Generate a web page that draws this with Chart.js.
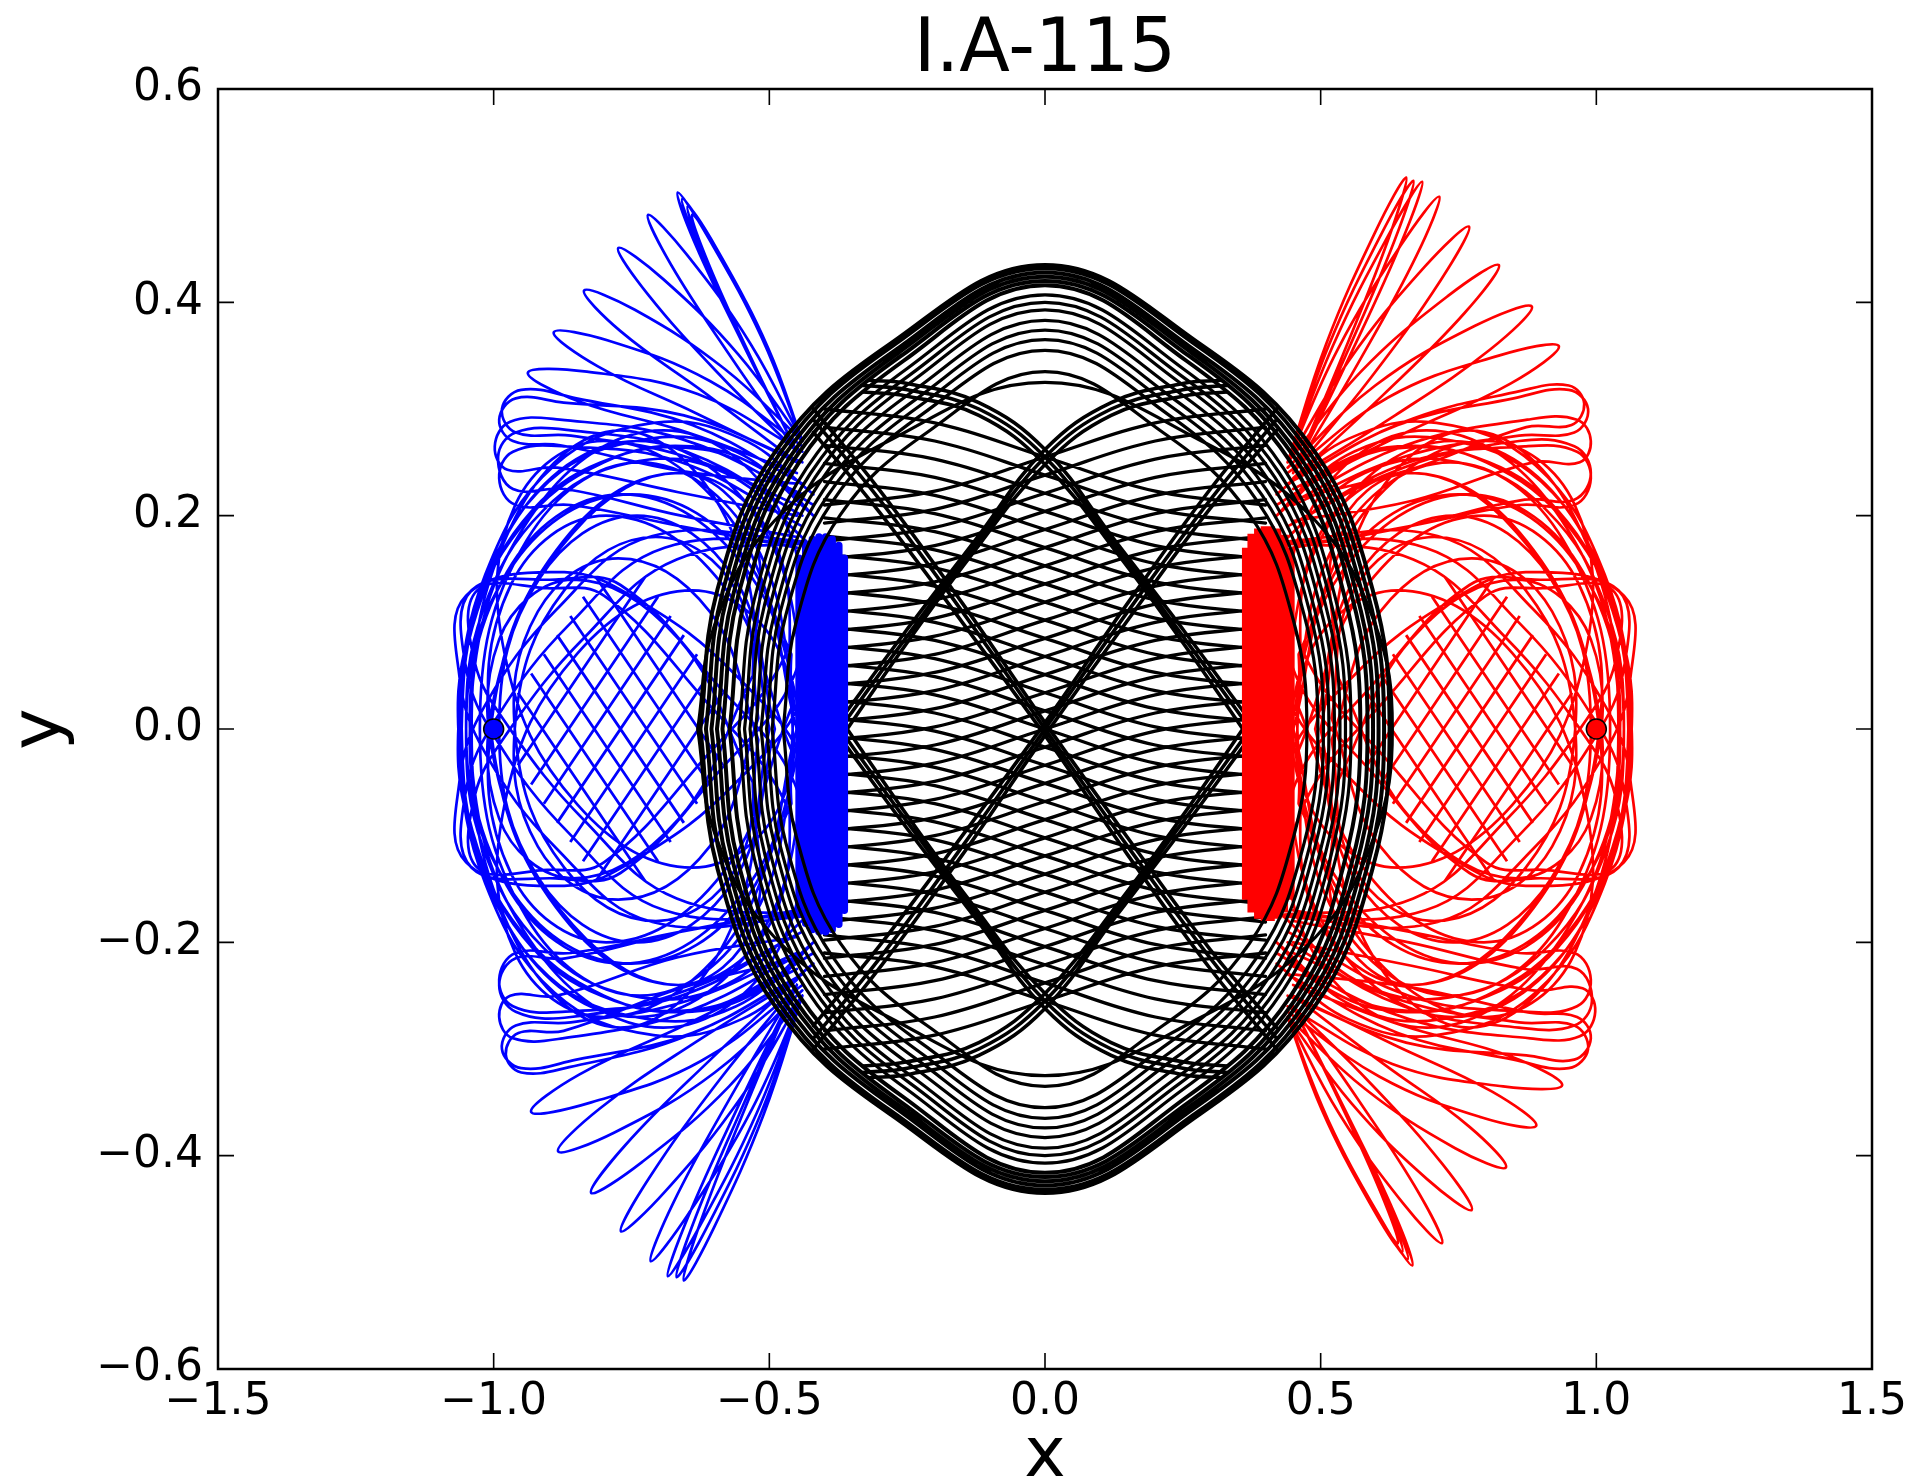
<!DOCTYPE html>
<html>
<head>
<meta charset="utf-8">
<title>I.A-115</title>
<script src="https://cdn.jsdelivr.net/npm/chart.js@4/dist/chart.umd.min.js"></script>
<style>
  html, body { margin: 0; padding: 0; background: #fff; }
  canvas { display: block; }
</style>
</head>
<body>
<canvas id="orbit" width="1914" height="1482"></canvas>
<script>
// ---- axes ----
const xTicks = [-1.5, -1.0, -0.5, 0, 0.5, 1.0, 1.5];
const xTickLabels = ['\u22121.5', '\u22121.0', '\u22120.5', '0.0', '0.5', '1.0', '1.5'];
const yTicks = [-0.6, -0.4, -0.2, 0, 0.2, 0.4, 0.6];
const yTickLabels = ['\u22120.6', '\u22120.4', '\u22120.2', '0.0', '0.2', '0.4', '0.6'];

// ---- starting positions of the two outer bodies ----
const startBlue = [-1, 0];
const startRed = [1, 0];

// ---- body 1 (blue): each curve is a flat list x0,y0,x1,y1,... ----
const bluePetalsUp = [
  [-0.44,0.27,-0.502,0.357,-0.586,0.441,-0.64,0.482,-0.61,0.436,-0.534,0.349,-0.45,0.26],
  [-0.44,0.27,-0.507,0.362,-0.594,0.449,-0.648,0.49,-0.618,0.443,-0.539,0.354,-0.45,0.26],
  [-0.44,0.27,-0.511,0.365,-0.602,0.455,-0.658,0.497,-0.626,0.449,-0.543,0.357,-0.45,0.26],
  [-0.44,0.27,-0.514,0.367,-0.609,0.459,-0.666,0.503,-0.633,0.453,-0.546,0.359,-0.45,0.26],
  [-0.44,0.27,-0.534,0.361,-0.65,0.445,-0.72,0.482,-0.678,0.435,-0.57,0.349,-0.45,0.26],
  [-0.44,0.27,-0.556,0.351,-0.693,0.422,-0.774,0.451,-0.721,0.408,-0.592,0.333,-0.45,0.26],
  [-0.44,0.27,-0.582,0.338,-0.744,0.393,-0.836,0.411,-0.77,0.373,-0.614,0.314,-0.45,0.25],
  [-0.44,0.265,-0.607,0.326,-0.791,0.364,-0.891,0.372,-0.811,0.34,-0.633,0.296,-0.45,0.25],
  [-0.44,0.26,-0.63,0.314,-0.831,0.335,-0.938,0.334,-0.845,0.307,-0.648,0.278,-0.45,0.24],
  [-0.44,0.25,-0.655,0.294,-0.873,0.306,-0.96,0.31,-0.99,0.29,-0.965,0.27,-0.879,0.266,-0.661,0.242,-0.45,0.23],
  [-0.44,0.23,-0.64,0.285,-0.85,0.31,-0.95,0.318,-0.985,0.3,-0.96,0.278,-0.86,0.275,-0.65,0.255,-0.45,0.21],
  [-0.44,0.22,-0.66,0.272,-0.88,0.29,-0.97,0.288,-0.998,0.265,-0.975,0.243,-0.885,0.245,-0.665,0.222,-0.45,0.2],
  [-0.44,0.2,-0.65,0.26,-0.86,0.28,-0.96,0.278,-0.992,0.255,-0.965,0.225,-0.87,0.225,-0.66,0.2,-0.45,0.18],
  [-0.44,0.19,-0.66,0.25,-0.87,0.265,-0.965,0.26,-0.99,0.235,-0.96,0.21,-0.86,0.21,-0.66,0.19,-0.45,0.17]
];
const bluePetalsDown = [
  [-0.44,-0.25,-0.51,-0.361,-0.6,-0.467,-0.655,-0.517,-0.624,-0.461,-0.542,-0.353,-0.45,-0.24],
  [-0.44,-0.25,-0.515,-0.36,-0.61,-0.464,-0.668,-0.514,-0.634,-0.458,-0.547,-0.352,-0.45,-0.24],
  [-0.44,-0.25,-0.522,-0.359,-0.623,-0.463,-0.684,-0.513,-0.647,-0.457,-0.554,-0.351,-0.45,-0.24],
  [-0.44,-0.25,-0.531,-0.356,-0.646,-0.454,-0.715,-0.499,-0.674,-0.444,-0.569,-0.344,-0.45,-0.24],
  [-0.44,-0.25,-0.552,-0.346,-0.688,-0.433,-0.769,-0.471,-0.718,-0.421,-0.592,-0.33,-0.45,-0.24],
  [-0.44,-0.25,-0.573,-0.335,-0.731,-0.406,-0.823,-0.435,-0.761,-0.39,-0.613,-0.313,-0.45,-0.235],
  [-0.44,-0.245,-0.599,-0.322,-0.78,-0.378,-0.883,-0.396,-0.808,-0.356,-0.635,-0.294,-0.45,-0.235],
  [-0.44,-0.24,-0.623,-0.311,-0.823,-0.35,-0.932,-0.359,-0.845,-0.324,-0.651,-0.277,-0.45,-0.225],
  [-0.44,-0.23,-0.647,-0.287,-0.863,-0.317,-0.95,-0.322,-0.978,-0.305,-0.955,-0.285,-0.873,-0.283,-0.661,-0.243,-0.45,-0.215],
  [-0.44,-0.23,-0.64,-0.285,-0.85,-0.31,-0.95,-0.318,-0.985,-0.3,-0.96,-0.278,-0.86,-0.275,-0.65,-0.255,-0.45,-0.21],
  [-0.44,-0.21,-0.654,-0.266,-0.875,-0.29,-0.965,-0.29,-0.99,-0.27,-0.97,-0.25,-0.885,-0.25,-0.666,-0.214,-0.45,-0.195],
  [-0.44,-0.19,-0.65,-0.245,-0.86,-0.27,-0.96,-0.265,-0.99,-0.24,-0.96,-0.215,-0.87,-0.215,-0.66,-0.19,-0.45,-0.17],
  [-0.44,-0.19,-0.66,-0.25,-0.87,-0.265,-0.965,-0.26,-0.99,-0.235,-0.96,-0.21,-0.86,-0.21,-0.66,-0.19,-0.45,-0.17]
];
// loops circling the open diamond around (-0.77, 0)
const blueRing = [
  [-0.52,0.01,-0.56,0.13,-0.706,0.18,-0.872,0.13,-0.96,0.01,-0.92,-0.11,-0.774,-0.16,-0.608,-0.11,-0.52,0.01],
  [-0.52,-0.01,-0.608,0.11,-0.774,0.16,-0.92,0.11,-0.96,-0.01,-0.872,-0.13,-0.706,-0.18,-0.56,-0.13,-0.52,-0.01],
  [-0.49,0,-0.563,0.141,-0.74,0.2,-0.917,0.141,-0.99,0,-0.917,-0.141,-0.74,-0.2,-0.563,-0.141,-0.49,0],
  [-0.46,0.02,-0.492,0.176,-0.664,0.24,-0.874,0.176,-1.0,0.02,-0.968,-0.136,-0.796,-0.2,-0.586,-0.136,-0.46,0.02],
  [-0.46,-0.02,-0.586,0.136,-0.796,0.2,-0.968,0.136,-1.0,-0.02,-0.874,-0.176,-0.664,-0.24,-0.492,-0.176,-0.46,-0.02],
  [-0.445,0,-0.53,0.177,-0.735,0.25,-0.94,0.177,-1.025,0,-0.94,-0.177,-0.735,-0.25,-0.53,-0.177,-0.445,0],
  [-0.42,0.03,-0.484,0.207,-0.692,0.28,-0.922,0.207,-1.04,0.03,-0.976,-0.147,-0.768,-0.22,-0.538,-0.147,-0.42,0.03],
  [-0.42,-0.03,-0.538,0.147,-0.768,0.22,-0.976,0.147,-1.04,-0.03,-0.922,-0.207,-0.692,-0.28,-0.484,-0.207,-0.42,-0.03],
  [-0.42,0,-0.514,0.191,-0.74,0.27,-0.966,0.191,-1.06,0,-0.966,-0.191,-0.74,-0.27,-0.514,-0.191,-0.42,0],
  [-0.53,0.05,-0.53,0.184,-0.665,0.24,-0.856,0.184,-0.99,0.05,-0.99,-0.084,-0.855,-0.14,-0.664,-0.084,-0.53,0.05],
  [-0.53,-0.05,-0.53,-0.184,-0.665,-0.24,-0.856,-0.184,-0.99,-0.05,-0.99,0.084,-0.855,0.14,-0.664,0.084,-0.53,-0.05],
  [-0.46,0.07,-0.592,0.211,-0.8,0.27,-0.96,0.211,-0.98,0.07,-0.848,-0.071,-0.64,-0.13,-0.48,-0.071,-0.46,0.07],
  [-0.46,-0.07,-0.592,-0.211,-0.8,-0.27,-0.96,-0.211,-0.98,-0.07,-0.848,0.071,-0.64,0.13,-0.48,0.071,-0.46,-0.07],
  [-0.45,0,-0.538,0.156,-0.75,0.22,-0.962,0.156,-1.05,0,-0.962,-0.156,-0.75,-0.22,-0.538,-0.156,-0.45,0],
  [-0.5,0,-0.579,0.198,-0.77,0.28,-0.961,0.198,-1.04,0,-0.961,-0.198,-0.77,-0.28,-0.579,-0.198,-0.5,0]
];
// slanted loops reaching from the turning band to the left rim
const blueSlants = [
  [-0.415,0.175,-0.668,0.159,-0.835,0.086,-0.973,-0.002,-1.035,-0.064,-1.03,-0.13,-0.903,-0.132,-0.8,-0.125,-0.615,-0.026,-0.478,0.062,-0.415,0.175],
  [-0.415,0.175,-0.69,0.17,-0.861,0.099,-0.995,0.01,-1.05,-0.057,-1.04,-0.13,-0.888,-0.14,-0.77,-0.135,-0.59,-0.039,-0.455,0.05,-0.415,0.175],
  [-0.415,0.175,-0.712,0.181,-0.886,0.112,-1.017,0.021,-1.062,-0.049,-1.05,-0.125,-0.872,-0.147,-0.738,-0.121,-0.564,-0.052,-0.433,0.039,-0.415,0.175],
  [-0.415,-0.175,-0.668,-0.159,-0.835,-0.086,-0.973,0.002,-1.035,0.064,-1.03,0.13,-0.903,0.132,-0.8,0.125,-0.615,0.026,-0.478,-0.062,-0.415,-0.175],
  [-0.415,-0.175,-0.69,-0.17,-0.861,-0.099,-0.995,-0.01,-1.05,0.057,-1.04,0.13,-0.888,0.14,-0.77,0.135,-0.59,0.039,-0.455,-0.05,-0.415,-0.175],
  [-0.415,-0.175,-0.712,-0.181,-0.886,-0.112,-1.017,-0.021,-1.062,0.049,-1.05,0.125,-0.872,0.147,-0.738,0.121,-0.564,0.052,-0.433,-0.039,-0.415,-0.175]
];
// straight crossings inside the diamond
const blueGrid = [
  [-0.814,-0.142,-0.584,0.034], [-0.838,-0.124,-0.608,0.052], [-0.861,-0.106,-0.631,0.07],
  [-0.885,-0.088,-0.655,0.088], [-0.909,-0.07,-0.679,0.106], [-0.932,-0.052,-0.702,0.124],
  [-0.956,-0.034,-0.726,0.142],
  [-0.814,0.142,-0.584,-0.034], [-0.838,0.124,-0.608,-0.052], [-0.861,0.106,-0.631,-0.07],
  [-0.885,0.088,-0.655,-0.088], [-0.909,0.07,-0.679,-0.106], [-0.932,0.052,-0.702,-0.124],
  [-0.956,0.034,-0.726,-0.142]
];
const blueArcs = [
  [-0.42,0.22,-0.55,0.272,-0.71,0.287,-0.89,0.247,-1.015,0.145,-1.062,0.02,-1.045,-0.09,-0.95,-0.19,-0.8,-0.25,-0.64,-0.265,-0.5,-0.24,-0.42,-0.2],
  [-0.42,0.2,-0.56,0.26,-0.72,0.272,-0.9,0.232,-1.02,0.13,-1.058,0,-1.03,-0.11,-0.93,-0.205,-0.78,-0.255,-0.62,-0.262,-0.5,-0.235,-0.42,-0.21],
  [-0.42,-0.22,-0.55,-0.272,-0.71,-0.287,-0.89,-0.247,-1.015,-0.145,-1.062,-0.02,-1.045,0.09,-0.95,0.19,-0.8,0.25,-0.64,0.265,-0.5,0.24,-0.42,0.2],
  [-0.42,-0.2,-0.56,-0.26,-0.72,-0.272,-0.9,-0.232,-1.02,-0.13,-1.058,0,-1.03,0.11,-0.93,0.205,-0.78,0.255,-0.62,0.262,-0.5,0.235,-0.42,0.21],
  [-0.42,0.17,-0.58,0.24,-0.75,0.25,-0.91,0.205,-1.02,0.11,-1.05,0,-1.02,-0.11,-0.91,-0.205,-0.75,-0.25,-0.58,-0.24,-0.42,-0.17]
];
const blueTurnBand = [
  [-0.446,0.16,-0.446,-0.17], [-0.434,0.172,-0.434,-0.182], [-0.422,0.178,-0.422,-0.188],
  [-0.41,0.18,-0.41,-0.19], [-0.398,0.18,-0.398,-0.19], [-0.386,0.178,-0.386,-0.188],
  [-0.374,0.172,-0.374,-0.183], [-0.364,0.16,-0.364,-0.17]
];

// ---- body 2 (red) ----
const redPetalsDown = [
  [0.44,-0.27,0.502,-0.357,0.586,-0.441,0.64,-0.482,0.61,-0.436,0.534,-0.349,0.45,-0.26],
  [0.44,-0.27,0.507,-0.362,0.594,-0.449,0.648,-0.49,0.618,-0.443,0.539,-0.354,0.45,-0.26],
  [0.44,-0.27,0.511,-0.365,0.602,-0.455,0.658,-0.497,0.626,-0.449,0.543,-0.357,0.45,-0.26],
  [0.44,-0.27,0.514,-0.367,0.609,-0.459,0.666,-0.503,0.633,-0.453,0.546,-0.359,0.45,-0.26],
  [0.44,-0.27,0.534,-0.361,0.65,-0.445,0.72,-0.482,0.678,-0.435,0.57,-0.349,0.45,-0.26],
  [0.44,-0.27,0.556,-0.351,0.693,-0.422,0.774,-0.451,0.721,-0.408,0.592,-0.333,0.45,-0.26],
  [0.44,-0.27,0.582,-0.338,0.744,-0.393,0.836,-0.411,0.77,-0.373,0.614,-0.314,0.45,-0.25],
  [0.44,-0.265,0.607,-0.326,0.791,-0.364,0.891,-0.372,0.811,-0.34,0.633,-0.296,0.45,-0.25],
  [0.44,-0.26,0.63,-0.314,0.831,-0.335,0.938,-0.334,0.845,-0.307,0.648,-0.278,0.45,-0.24],
  [0.44,-0.25,0.655,-0.294,0.873,-0.306,0.96,-0.31,0.99,-0.29,0.965,-0.27,0.879,-0.266,0.661,-0.242,0.45,-0.23],
  [0.44,-0.23,0.64,-0.285,0.85,-0.31,0.95,-0.318,0.985,-0.3,0.96,-0.278,0.86,-0.275,0.65,-0.255,0.45,-0.21],
  [0.44,-0.22,0.66,-0.272,0.88,-0.29,0.97,-0.288,0.998,-0.265,0.975,-0.243,0.885,-0.245,0.665,-0.222,0.45,-0.2],
  [0.44,-0.2,0.65,-0.26,0.86,-0.28,0.96,-0.278,0.992,-0.255,0.965,-0.225,0.87,-0.225,0.66,-0.2,0.45,-0.18],
  [0.44,-0.19,0.66,-0.25,0.87,-0.265,0.965,-0.26,0.99,-0.235,0.96,-0.21,0.86,-0.21,0.66,-0.19,0.45,-0.17]
];
const redPetalsUp = [
  [0.44,0.25,0.51,0.361,0.6,0.467,0.655,0.517,0.624,0.461,0.542,0.353,0.45,0.24],
  [0.44,0.25,0.515,0.36,0.61,0.464,0.668,0.514,0.634,0.458,0.547,0.352,0.45,0.24],
  [0.44,0.25,0.522,0.359,0.623,0.463,0.684,0.513,0.647,0.457,0.554,0.351,0.45,0.24],
  [0.44,0.25,0.531,0.356,0.646,0.454,0.715,0.499,0.674,0.444,0.569,0.344,0.45,0.24],
  [0.44,0.25,0.552,0.346,0.688,0.433,0.769,0.471,0.718,0.421,0.592,0.33,0.45,0.24],
  [0.44,0.25,0.573,0.335,0.731,0.406,0.823,0.435,0.761,0.39,0.613,0.313,0.45,0.235],
  [0.44,0.245,0.599,0.322,0.78,0.378,0.883,0.396,0.808,0.356,0.635,0.294,0.45,0.235],
  [0.44,0.24,0.623,0.311,0.823,0.35,0.932,0.359,0.845,0.324,0.651,0.277,0.45,0.225],
  [0.44,0.23,0.647,0.287,0.863,0.317,0.95,0.322,0.978,0.305,0.955,0.285,0.873,0.283,0.661,0.243,0.45,0.215],
  [0.44,0.23,0.64,0.285,0.85,0.31,0.95,0.318,0.985,0.3,0.96,0.278,0.86,0.275,0.65,0.255,0.45,0.21],
  [0.44,0.21,0.654,0.266,0.875,0.29,0.965,0.29,0.99,0.27,0.97,0.25,0.885,0.25,0.666,0.214,0.45,0.195],
  [0.44,0.19,0.65,0.245,0.86,0.27,0.96,0.265,0.99,0.24,0.96,0.215,0.87,0.215,0.66,0.19,0.45,0.17],
  [0.44,0.19,0.66,0.25,0.87,0.265,0.965,0.26,0.99,0.235,0.96,0.21,0.86,0.21,0.66,0.19,0.45,0.17]
];
const redRing = [
  [0.52,-0.01,0.56,-0.13,0.706,-0.18,0.872,-0.13,0.96,-0.01,0.92,0.11,0.774,0.16,0.608,0.11,0.52,-0.01],
  [0.52,0.01,0.608,-0.11,0.774,-0.16,0.92,-0.11,0.96,0.01,0.872,0.13,0.706,0.18,0.56,0.13,0.52,0.01],
  [0.49,0,0.563,-0.141,0.74,-0.2,0.917,-0.141,0.99,0,0.917,0.141,0.74,0.2,0.563,0.141,0.49,0],
  [0.46,-0.02,0.492,-0.176,0.664,-0.24,0.874,-0.176,1.0,-0.02,0.968,0.136,0.796,0.2,0.586,0.136,0.46,-0.02],
  [0.46,0.02,0.586,-0.136,0.796,-0.2,0.968,-0.136,1.0,0.02,0.874,0.176,0.664,0.24,0.492,0.176,0.46,0.02],
  [0.445,0,0.53,-0.177,0.735,-0.25,0.94,-0.177,1.025,0,0.94,0.177,0.735,0.25,0.53,0.177,0.445,0],
  [0.42,-0.03,0.484,-0.207,0.692,-0.28,0.922,-0.207,1.04,-0.03,0.976,0.147,0.768,0.22,0.538,0.147,0.42,-0.03],
  [0.42,0.03,0.538,-0.147,0.768,-0.22,0.976,-0.147,1.04,0.03,0.922,0.207,0.692,0.28,0.484,0.207,0.42,0.03],
  [0.42,0,0.514,-0.191,0.74,-0.27,0.966,-0.191,1.06,0,0.966,0.191,0.74,0.27,0.514,0.191,0.42,0],
  [0.53,-0.05,0.53,-0.184,0.665,-0.24,0.856,-0.184,0.99,-0.05,0.99,0.084,0.855,0.14,0.664,0.084,0.53,-0.05],
  [0.53,0.05,0.53,0.184,0.665,0.24,0.856,0.184,0.99,0.05,0.99,-0.084,0.855,-0.14,0.664,-0.084,0.53,0.05],
  [0.46,-0.07,0.592,-0.211,0.8,-0.27,0.96,-0.211,0.98,-0.07,0.848,0.071,0.64,0.13,0.48,0.071,0.46,-0.07],
  [0.46,0.07,0.592,0.211,0.8,0.27,0.96,0.211,0.98,0.07,0.848,-0.071,0.64,-0.13,0.48,-0.071,0.46,0.07],
  [0.45,0,0.538,-0.156,0.75,-0.22,0.962,-0.156,1.05,0,0.962,0.156,0.75,0.22,0.538,0.156,0.45,0],
  [0.5,0,0.579,-0.198,0.77,-0.28,0.961,-0.198,1.04,0,0.961,0.198,0.77,0.28,0.579,0.198,0.5,0]
];
const redSlants = [
  [0.415,-0.175,0.668,-0.159,0.835,-0.086,0.973,0.002,1.035,0.064,1.03,0.13,0.903,0.132,0.8,0.125,0.615,0.026,0.478,-0.062,0.415,-0.175],
  [0.415,-0.175,0.69,-0.17,0.861,-0.099,0.995,-0.01,1.05,0.057,1.04,0.13,0.888,0.14,0.77,0.135,0.59,0.039,0.455,-0.05,0.415,-0.175],
  [0.415,-0.175,0.712,-0.181,0.886,-0.112,1.017,-0.021,1.062,0.049,1.05,0.125,0.872,0.147,0.738,0.121,0.564,0.052,0.433,-0.039,0.415,-0.175],
  [0.415,0.175,0.668,0.159,0.835,0.086,0.973,-0.002,1.035,-0.064,1.03,-0.13,0.903,-0.132,0.8,-0.125,0.615,-0.026,0.478,0.062,0.415,0.175],
  [0.415,0.175,0.69,0.17,0.861,0.099,0.995,0.01,1.05,-0.057,1.04,-0.13,0.888,-0.14,0.77,-0.135,0.59,-0.039,0.455,0.05,0.415,0.175],
  [0.415,0.175,0.712,0.181,0.886,0.112,1.017,0.021,1.062,-0.049,1.05,-0.125,0.872,-0.147,0.738,-0.121,0.564,-0.052,0.433,0.039,0.415,0.175]
];
const redGrid = [
  [0.814,0.142,0.584,-0.034], [0.838,0.124,0.608,-0.052], [0.861,0.106,0.631,-0.07],
  [0.885,0.088,0.655,-0.088], [0.909,0.07,0.679,-0.106], [0.932,0.052,0.702,-0.124],
  [0.956,0.034,0.726,-0.142],
  [0.814,-0.142,0.584,0.034], [0.838,-0.124,0.608,0.052], [0.861,-0.106,0.631,0.07],
  [0.885,-0.088,0.655,0.088], [0.909,-0.07,0.679,0.106], [0.932,-0.052,0.702,0.124],
  [0.956,-0.034,0.726,0.142]
];
const redArcs = [
  [0.42,-0.22,0.55,-0.272,0.71,-0.287,0.89,-0.247,1.015,-0.145,1.062,-0.02,1.045,0.09,0.95,0.19,0.8,0.25,0.64,0.265,0.5,0.24,0.42,0.2],
  [0.42,-0.2,0.56,-0.26,0.72,-0.272,0.9,-0.232,1.02,-0.13,1.058,0,1.03,0.11,0.93,0.205,0.78,0.255,0.62,0.262,0.5,0.235,0.42,0.21],
  [0.42,0.22,0.55,0.272,0.71,0.287,0.89,0.247,1.015,0.145,1.062,0.02,1.045,-0.09,0.95,-0.19,0.8,-0.25,0.64,-0.265,0.5,-0.24,0.42,-0.2],
  [0.42,0.2,0.56,0.26,0.72,0.272,0.9,0.232,1.02,0.13,1.058,0,1.03,-0.11,0.93,-0.205,0.78,-0.255,0.62,-0.262,0.5,-0.235,0.42,-0.21],
  [0.42,-0.17,0.58,-0.24,0.75,-0.25,0.91,-0.205,1.02,-0.11,1.05,0,1.02,0.11,0.91,0.205,0.75,0.25,0.58,0.24,0.42,0.17]
];
const redTurnBand = [
  [0.446,-0.16,0.446,0.17], [0.434,-0.172,0.434,0.182], [0.422,-0.178,0.422,0.188],
  [0.41,-0.18,0.41,0.19], [0.398,-0.18,0.398,0.19], [0.386,-0.178,0.386,0.188],
  [0.374,-0.172,0.374,0.183], [0.364,-0.16,0.364,0.17]
];

// ---- body 3 (black) ----
const blackOuterRings = [
  [-0.625,0,-0.594,0.131,-0.488,0.261,-0.281,0.361,0,0.435,0.281,0.361,0.488,0.261,0.594,0.131,0.625,0,0.594,-0.131,0.488,-0.261,0.281,-0.361,0,-0.435,-0.281,-0.361,-0.488,-0.261,-0.594,-0.131,-0.625,0],
  [-0.615,0,-0.584,0.13,-0.48,0.259,-0.277,0.359,0,0.432,0.277,0.359,0.48,0.259,0.584,0.13,0.615,0,0.584,-0.13,0.48,-0.259,0.277,-0.359,0,-0.432,-0.277,-0.359,-0.48,-0.259,-0.584,-0.13,-0.615,0],
  [-0.605,0,-0.575,0.128,-0.472,0.257,-0.272,0.355,0,0.428,0.272,0.355,0.472,0.257,0.575,0.128,0.605,0,0.575,-0.128,0.472,-0.257,0.272,-0.355,0,-0.428,-0.272,-0.355,-0.472,-0.257,-0.575,-0.128,-0.605,0],
  [-0.595,0,-0.565,0.127,-0.464,0.254,-0.268,0.352,0,0.424,0.268,0.352,0.464,0.254,0.565,0.127,0.595,0,0.565,-0.127,0.464,-0.254,0.268,-0.352,0,-0.424,-0.268,-0.352,-0.464,-0.254,-0.565,-0.127,-0.595,0],
  [-0.585,0,-0.556,0.126,-0.456,0.252,-0.263,0.349,0,0.42,0.263,0.349,0.456,0.252,0.556,0.126,0.585,0,0.556,-0.126,0.456,-0.252,0.263,-0.349,0,-0.42,-0.263,-0.349,-0.456,-0.252,-0.556,-0.126,-0.585,0],
  [-0.572,0,-0.543,0.125,-0.446,0.25,-0.257,0.345,0,0.416,0.257,0.345,0.446,0.25,0.543,0.125,0.572,0,0.543,-0.125,0.446,-0.25,0.257,-0.345,0,-0.416,-0.257,-0.345,-0.446,-0.25,-0.543,-0.125,-0.572,0]
];
const blackInnerRings = [
  [-0.555,0,-0.527,0.122,-0.433,0.244,-0.25,0.338,0,0.407,0.25,0.338,0.433,0.244,0.527,0.122,0.555,0,0.527,-0.122,0.433,-0.244,0.25,-0.338,0,-0.407,-0.25,-0.338,-0.433,-0.244,-0.527,-0.122,-0.555,0],
  [-0.545,0,-0.518,0.12,-0.425,0.24,-0.245,0.332,0,0.4,0.245,0.332,0.425,0.24,0.518,0.12,0.545,0,0.518,-0.12,0.425,-0.24,0.245,-0.332,0,-0.4,-0.245,-0.332,-0.425,-0.24,-0.518,-0.12,-0.545,0],
  [-0.535,0,-0.508,0.118,-0.417,0.236,-0.241,0.326,0,0.393,0.241,0.326,0.417,0.236,0.508,0.118,0.535,0,0.508,-0.118,0.417,-0.236,0.241,-0.326,0,-0.393,-0.241,-0.326,-0.417,-0.236,-0.508,-0.118,-0.535,0],
  [-0.525,0,-0.499,0.115,-0.41,0.23,-0.236,0.318,0,0.383,0.236,0.318,0.41,0.23,0.499,0.115,0.525,0,0.499,-0.115,0.41,-0.23,0.236,-0.318,0,-0.383,-0.236,-0.318,-0.41,-0.23,-0.499,-0.115,-0.525,0],
  [-0.515,0,-0.489,0.112,-0.402,0.224,-0.232,0.31,0,0.374,0.232,0.31,0.402,0.224,0.489,0.112,0.515,0,0.489,-0.112,0.402,-0.224,0.232,-0.31,0,-0.374,-0.232,-0.31,-0.402,-0.224,-0.489,-0.112,-0.515,0],
  [-0.505,0,-0.48,0.11,-0.394,0.219,-0.227,0.303,0,0.365,0.227,0.303,0.394,0.219,0.48,0.11,0.505,0,0.48,-0.11,0.394,-0.219,0.227,-0.303,0,-0.365,-0.227,-0.303,-0.394,-0.219,-0.48,-0.11,-0.505,0],
  [-0.495,0,-0.47,0.107,-0.386,0.213,-0.223,0.295,0,0.355,0.223,0.295,0.386,0.213,0.47,0.107,0.495,0,0.47,-0.107,0.386,-0.213,0.223,-0.295,0,-0.355,-0.223,-0.295,-0.386,-0.213,-0.47,-0.107,-0.495,0],
  [-0.475,0,-0.451,0.101,-0.371,0.201,-0.214,0.278,0,0.335,0.214,0.278,0.371,0.201,0.451,0.101,0.475,0,0.451,-0.101,0.371,-0.201,0.214,-0.278,0,-0.335,-0.214,-0.278,-0.371,-0.201,-0.451,-0.101,-0.475,0],
  [-0.63,0,-0.599,0.098,-0.491,0.195,-0.284,0.27,0,0.325,0.284,0.27,0.491,0.195,0.599,0.098,0.63,0,0.599,-0.098,0.491,-0.195,0.284,-0.27,0,-0.325,-0.284,-0.27,-0.491,-0.195,-0.599,-0.098,-0.63,0]
];
const blackCaustics = [
  [-0.42,0.29,-0.3,0.215,-0.15,0.11,0,0,0.15,-0.11,0.3,-0.215,0.42,-0.29],
  [-0.42,0.278,-0.3,0.203,-0.15,0.1,0,-0.006,0.15,-0.118,0.3,-0.225,0.42,-0.3],
  [-0.42,0.3,-0.3,0.224,-0.15,0.118,0,0.006,0.15,-0.102,0.3,-0.207,0.42,-0.28],
  [-0.42,-0.29,-0.3,-0.215,-0.15,-0.11,0,0,0.15,0.11,0.3,0.215,0.42,0.29],
  [-0.42,-0.278,-0.3,-0.203,-0.15,-0.1,0,0.006,0.15,0.118,0.3,0.225,0.42,0.3],
  [-0.42,-0.3,-0.3,-0.224,-0.15,-0.118,0,-0.006,0.15,0.102,0.3,0.207,0.42,0.28],
  [-0.4,-0.02,-0.26,0.08,-0.13,0.17,0,0.255,0.12,0.3,0.25,0.318,0.33,0.322],
  [-0.39,-0.005,-0.255,0.09,-0.125,0.178,0,0.262,0.12,0.306,0.25,0.324,0.32,0.327],
  [-0.405,-0.035,-0.265,0.07,-0.135,0.162,0,0.248,0.12,0.294,0.25,0.312,0.33,0.316],
  [0.4,-0.02,0.26,0.08,0.13,0.17,0,0.255,-0.12,0.3,-0.25,0.318,-0.33,0.322],
  [0.39,-0.005,0.255,0.09,0.125,0.178,0,0.262,-0.12,0.306,-0.25,0.324,-0.32,0.327],
  [0.405,-0.035,0.265,0.07,0.135,0.162,0,0.248,-0.12,0.294,-0.25,0.312,-0.33,0.316],
  [-0.4,0.02,-0.26,-0.08,-0.13,-0.17,0,-0.255,0.12,-0.3,0.25,-0.318,0.33,-0.322],
  [-0.39,0.005,-0.255,-0.09,-0.125,-0.178,0,-0.262,0.12,-0.306,0.25,-0.324,0.32,-0.327],
  [-0.405,0.035,-0.265,-0.07,-0.135,-0.162,0,-0.248,0.12,-0.294,0.25,-0.312,0.33,-0.316],
  [0.4,0.02,0.26,-0.08,0.13,-0.17,0,-0.255,-0.12,-0.3,-0.25,-0.318,-0.33,-0.322],
  [0.39,0.005,0.255,-0.09,0.125,-0.178,0,-0.262,-0.12,-0.306,-0.25,-0.324,-0.32,-0.327],
  [0.405,0.035,0.265,-0.07,0.135,-0.162,0,-0.248,-0.12,-0.294,-0.25,-0.312,-0.33,-0.316]
];
// horizontal swings across the middle, falling left to right
const blackSwingsDown = [
  [-0.4,-0.21,-0.2,-0.223,0,-0.255,0.2,-0.287,0.4,-0.3],
  [-0.4,-0.193,-0.2,-0.206,0,-0.238,0.2,-0.27,0.4,-0.283],
  [-0.4,-0.176,-0.2,-0.189,0,-0.221,0.2,-0.253,0.4,-0.266],
  [-0.4,-0.159,-0.2,-0.172,0,-0.204,0.2,-0.236,0.4,-0.249],
  [-0.4,-0.142,-0.2,-0.155,0,-0.187,0.2,-0.219,0.4,-0.232],
  [-0.4,-0.125,-0.2,-0.138,0,-0.17,0.2,-0.202,0.4,-0.215],
  [-0.4,-0.108,-0.2,-0.121,0,-0.153,0.2,-0.185,0.4,-0.198],
  [-0.4,-0.091,-0.2,-0.104,0,-0.136,0.2,-0.168,0.4,-0.181],
  [-0.4,-0.074,-0.2,-0.087,0,-0.119,0.2,-0.151,0.4,-0.164],
  [-0.4,-0.057,-0.2,-0.07,0,-0.102,0.2,-0.134,0.4,-0.147],
  [-0.4,-0.04,-0.2,-0.053,0,-0.085,0.2,-0.117,0.4,-0.13],
  [-0.4,-0.023,-0.2,-0.036,0,-0.068,0.2,-0.1,0.4,-0.113],
  [-0.4,-0.006,-0.2,-0.019,0,-0.051,0.2,-0.083,0.4,-0.096],
  [-0.4,0.011,-0.2,-0.002,0,-0.034,0.2,-0.066,0.4,-0.079],
  [-0.4,0.028,-0.2,0.015,0,-0.017,0.2,-0.049,0.4,-0.062],
  [-0.4,0.045,-0.2,0.032,0,0,0.2,-0.032,0.4,-0.045],
  [-0.4,0.062,-0.2,0.049,0,0.017,0.2,-0.015,0.4,-0.028],
  [-0.4,0.079,-0.2,0.066,0,0.034,0.2,0.002,0.4,-0.011],
  [-0.4,0.096,-0.2,0.083,0,0.051,0.2,0.019,0.4,0.006],
  [-0.4,0.113,-0.2,0.1,0,0.068,0.2,0.036,0.4,0.023],
  [-0.4,0.13,-0.2,0.117,0,0.085,0.2,0.053,0.4,0.04],
  [-0.4,0.147,-0.2,0.134,0,0.102,0.2,0.07,0.4,0.057],
  [-0.4,0.164,-0.2,0.151,0,0.119,0.2,0.087,0.4,0.074],
  [-0.4,0.181,-0.2,0.168,0,0.136,0.2,0.104,0.4,0.091],
  [-0.4,0.198,-0.2,0.185,0,0.153,0.2,0.121,0.4,0.108],
  [-0.4,0.215,-0.2,0.202,0,0.17,0.2,0.138,0.4,0.125],
  [-0.4,0.232,-0.2,0.219,0,0.187,0.2,0.155,0.4,0.142],
  [-0.4,0.249,-0.2,0.236,0,0.204,0.2,0.172,0.4,0.159],
  [-0.4,0.266,-0.2,0.253,0,0.221,0.2,0.189,0.4,0.176],
  [-0.4,0.283,-0.2,0.27,0,0.238,0.2,0.206,0.4,0.193],
  [-0.4,0.3,-0.2,0.287,0,0.255,0.2,0.223,0.4,0.21]
];
// and the swings rising left to right
const blackSwingsUp = [
  [0.4,-0.21,0.2,-0.223,0,-0.255,-0.2,-0.287,-0.4,-0.3],
  [0.4,-0.193,0.2,-0.206,0,-0.238,-0.2,-0.27,-0.4,-0.283],
  [0.4,-0.176,0.2,-0.189,0,-0.221,-0.2,-0.253,-0.4,-0.266],
  [0.4,-0.159,0.2,-0.172,0,-0.204,-0.2,-0.236,-0.4,-0.249],
  [0.4,-0.142,0.2,-0.155,0,-0.187,-0.2,-0.219,-0.4,-0.232],
  [0.4,-0.125,0.2,-0.138,0,-0.17,-0.2,-0.202,-0.4,-0.215],
  [0.4,-0.108,0.2,-0.121,0,-0.153,-0.2,-0.185,-0.4,-0.198],
  [0.4,-0.091,0.2,-0.104,0,-0.136,-0.2,-0.168,-0.4,-0.181],
  [0.4,-0.074,0.2,-0.087,0,-0.119,-0.2,-0.151,-0.4,-0.164],
  [0.4,-0.057,0.2,-0.07,0,-0.102,-0.2,-0.134,-0.4,-0.147],
  [0.4,-0.04,0.2,-0.053,0,-0.085,-0.2,-0.117,-0.4,-0.13],
  [0.4,-0.023,0.2,-0.036,0,-0.068,-0.2,-0.1,-0.4,-0.113],
  [0.4,-0.006,0.2,-0.019,0,-0.051,-0.2,-0.083,-0.4,-0.096],
  [0.4,0.011,0.2,-0.002,0,-0.034,-0.2,-0.066,-0.4,-0.079],
  [0.4,0.028,0.2,0.015,0,-0.017,-0.2,-0.049,-0.4,-0.062],
  [0.4,0.045,0.2,0.032,0,0,-0.2,-0.032,-0.4,-0.045],
  [0.4,0.062,0.2,0.049,0,0.017,-0.2,-0.015,-0.4,-0.028],
  [0.4,0.079,0.2,0.066,0,0.034,-0.2,0.002,-0.4,-0.011],
  [0.4,0.096,0.2,0.083,0,0.051,-0.2,0.019,-0.4,0.006],
  [0.4,0.113,0.2,0.1,0,0.068,-0.2,0.036,-0.4,0.023],
  [0.4,0.13,0.2,0.117,0,0.085,-0.2,0.053,-0.4,0.04],
  [0.4,0.147,0.2,0.134,0,0.102,-0.2,0.07,-0.4,0.057],
  [0.4,0.164,0.2,0.151,0,0.119,-0.2,0.087,-0.4,0.074],
  [0.4,0.181,0.2,0.168,0,0.136,-0.2,0.104,-0.4,0.091],
  [0.4,0.198,0.2,0.185,0,0.153,-0.2,0.121,-0.4,0.108],
  [0.4,0.215,0.2,0.202,0,0.17,-0.2,0.138,-0.4,0.125],
  [0.4,0.232,0.2,0.219,0,0.187,-0.2,0.155,-0.4,0.142],
  [0.4,0.249,0.2,0.236,0,0.204,-0.2,0.172,-0.4,0.159],
  [0.4,0.266,0.2,0.253,0,0.221,-0.2,0.189,-0.4,0.176],
  [0.4,0.283,0.2,0.27,0,0.238,-0.2,0.206,-0.4,0.193],
  [0.4,0.3,0.2,0.287,0,0.255,-0.2,0.223,-0.4,0.21]
];

// ---- helpers ----
// join separate curves into one dataset, broken by gaps
function trace(...groups) {
  const out = [];
  groups.forEach(group => group.forEach(curve => {
    if (out.length) out.push({x: null, y: null});
    for (let k = 0; k < curve.length; k += 2) out.push({x: curve[k], y: curve[k + 1]});
  }));
  return out;
}
function path(data, color, width, order, tension) {
  return {
    data, order, showLine: true, spanGaps: false,
    borderColor: color, borderWidth: width,
    tension: tension === undefined ? 0.4 : tension,
    borderJoinStyle: 'round', borderCapStyle: tension === 0 ? 'butt' : 'round',
    pointRadius: 0, pointHoverRadius: 0, fill: false
  };
}

const FONT = 'DejaVu Sans';
const TICK_LEN = 16;

// inward tick marks on all four sides plus the frame
const frame = {
  id: 'frame',
  afterDatasetsDraw(chart) {
    const {ctx, chartArea: {left, right, top, bottom}, scales: {x, y}} = chart;
    ctx.save();
    ctx.strokeStyle = '#000';
    ctx.lineWidth = 1.6;
    ctx.beginPath();
    x.ticks.forEach(t => {
      const p = x.getPixelForValue(t.value);
      ctx.moveTo(p, bottom); ctx.lineTo(p, bottom - TICK_LEN);
      ctx.moveTo(p, top); ctx.lineTo(p, top + TICK_LEN);
    });
    y.ticks.forEach(t => {
      const p = y.getPixelForValue(t.value);
      ctx.moveTo(left, p); ctx.lineTo(left + TICK_LEN, p);
      ctx.moveTo(right, p); ctx.lineTo(right - TICK_LEN, p);
    });
    ctx.stroke();
    ctx.lineWidth = 2.5;
    ctx.strokeRect(left, top, right - left, bottom - top);
    ctx.restore();
  }
};

new Chart(document.getElementById('orbit'), {
  type: 'scatter',
  data: {
    datasets: [
      {data: [{x: startBlue[0], y: startBlue[1]}], order: 0, pointRadius: 10, pointBackgroundColor: '#0000ff',
       pointBorderColor: '#000', pointBorderWidth: 1.5, showLine: false},
      {data: [{x: startRed[0], y: startRed[1]}], order: 0, pointRadius: 10, pointBackgroundColor: '#ff0000',
       pointBorderColor: '#000', pointBorderWidth: 1.5, showLine: false},
      path(trace(blackOuterRings), '#000000', 4, 1),
      path(trace(blackInnerRings), '#000000', 3.2, 2),
      path(trace(blueTurnBand), '#0000ff', 7.5, 3, 0),
      path(trace(redTurnBand), '#ff0000', 7.5, 3, 0),
      path(trace(blackCaustics), '#000000', 3.6, 4),
      path(trace(blueGrid), '#0000ff', 2.8, 5, 0),
      path(trace(redGrid), '#ff0000', 2.8, 5, 0),
      path(trace(bluePetalsUp, bluePetalsDown, blueRing, blueSlants, blueArcs), '#0000ff', 2.7, 5),
      path(trace(redPetalsDown, redPetalsUp, redRing, redSlants, redArcs), '#ff0000', 2.7, 5),
      path(trace(blackSwingsDown, blackSwingsUp), '#000000', 3.3, 6)
    ]
  },
  options: {
    responsive: false,
    animation: false,
    devicePixelRatio: 1,
    events: [],
    layout: {padding: {left: 0, right: 42, top: 0, bottom: 0}},
    plugins: {
      legend: {display: false},
      tooltip: {enabled: false},
      title: {
        display: true, fullSize: false, text: 'I.A-115', color: '#000',
        font: {family: FONT, size: 74, weight: 'normal', lineHeight: 1.0},
        padding: {top: 15, bottom: 0}
      }
    },
    scales: {
      x: {
        type: 'linear', min: -1.5, max: 1.5,
        grid: {display: false, drawTicks: false},
        border: {display: false},
        afterBuildTicks: s => { s.ticks = xTicks.map(v => ({value: v})); },
        afterFit: s => { s.height = 113; },
        ticks: {
          padding: 7, color: '#000', autoSkip: false, maxRotation: 0,
          font: {family: FONT, size: 44},
          callback: (v, i) => xTickLabels[i]
        },
        title: {display: true, text: 'x', color: '#000', padding: 0,
                font: {family: FONT, size: 70, lineHeight: 0.7}}
      },
      y: {
        type: 'linear', min: -0.6, max: 0.6,
        grid: {display: false, drawTicks: false},
        border: {display: false},
        afterBuildTicks: s => { s.ticks = yTicks.map(v => ({value: v})); },
        afterFit: s => { s.width = 218; },
        ticks: {
          padding: 15, color: '#000', autoSkip: false,
          font: {family: FONT, size: 44},
          callback: (v, i) => yTickLabels[i]
        },
        title: {display: true, text: 'y', color: '#000', padding: 0,
                font: {family: FONT, size: 70, lineHeight: 1.2}}
      }
    }
  },
  plugins: [frame]
});
</script>
</body>
</html>
